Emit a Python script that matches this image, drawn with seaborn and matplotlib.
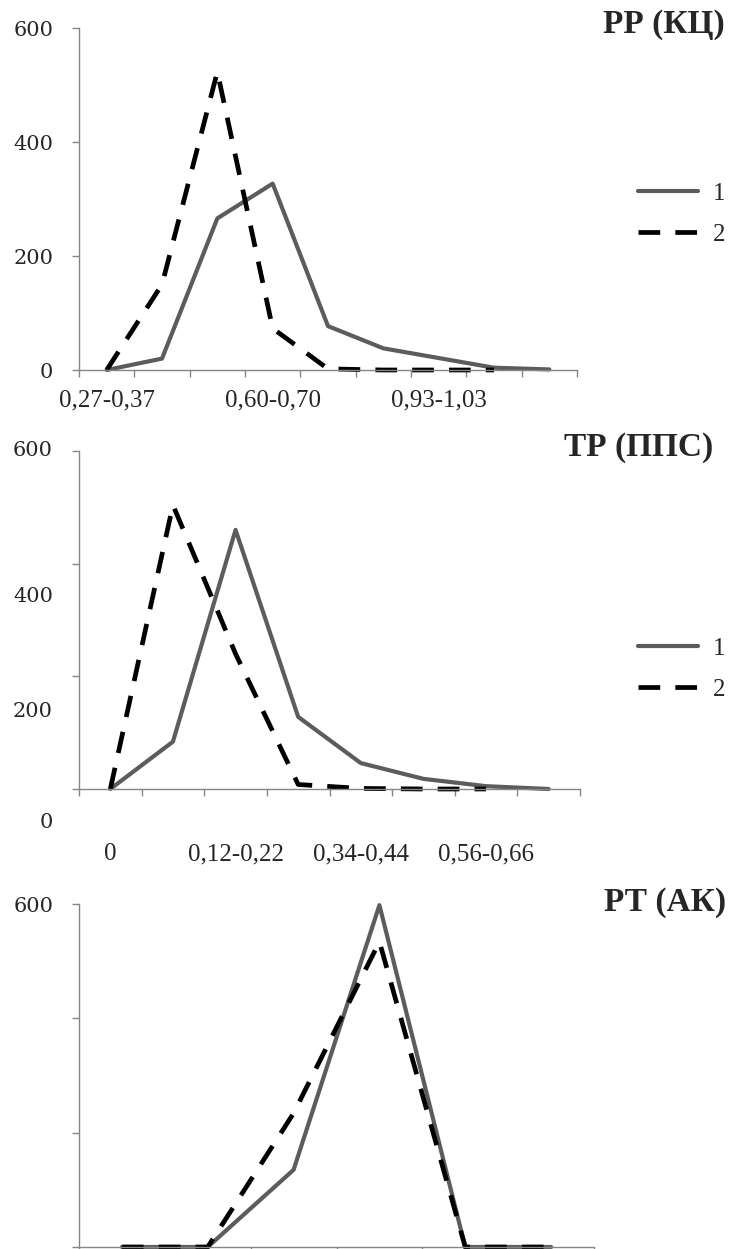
import numpy as np
import matplotlib
matplotlib.use("Agg")
import matplotlib.pyplot as plt
import seaborn as sns
from matplotlib.transforms import blended_transform_factory

sns.set_style("ticks")
plt.rcParams['font.family'] = ['Liberation Serif', 'DejaVu Serif']

# ---------------- data ----------------
# Panel 1: РР (КЦ)
rr_bins = ["0,27-0,37", "0,38-0,48", "0,49-0,59", "0,60-0,70", "0,71-0,81",
           "0,82-0,92", "0,93-1,03", "1,04-1,14", "1,15-1,25"]
rr_s1 = [0, 20, 266, 327, 77, 38, 21, 4, 1]
rr_s2 = [0, 150, 523, 73, 2, 0, 0, 0]

# Panel 2: ТР (ППС)
tr_bins = ["0", "0,01-0,11", "0,12-0,22", "0,23-0,33", "0,34-0,44",
           "0,45-0,55", "0,56-0,66", "0,67-0,77"]
tr_s1 = [0, 84, 460, 128, 46, 18, 5, 0]
tr_s2 = [0, 504, 240, 8, 1, 0, 0]
# tick labels of panel 2 as they sit in the source (shifted from their ticks)
tr_ylabels = ["600", "400", "200", "0"]
tr_ylabel_pos = [600, 341, 137, -60]

# Panel 3: РТ (АК) (category labels are cut off in the source)
rt_bins = ["", "", "", "", "", ""]
rt_s1 = [0, 0, 135, 598, 0, 0]
rt_s2 = [0, 0, 234, 534, 0, 0]

series_labels = ["1", "2"]
y_ticks = [0, 200, 400, 600]

# ---------------- style ----------------
W, H, DPI = 731, 1249, 100
AXIS_C = "#868686"
C1 = "#5c5c5c"
C2 = "#000000"
LW1 = 3
LW2 = 3.4
DASH = (0, (4.6, 3.2))
YLAB_FONT = dict(family=["DejaVu Serif"], size=15)

fig = plt.figure(figsize=(W / DPI, H / DPI), dpi=DPI)


def add_axes_px(x0, y0, x1, y1):
    return fig.add_axes([x0 / W, 1 - y1 / H, (x1 - x0) / W, (y1 - y0) / H])


def base_axes(ax, n, label_idx, bins, xpad):
    for s in ["top", "right"]:
        ax.spines[s].set_visible(False)
    for s in ["left", "bottom"]:
        ax.spines[s].set_color(AXIS_C)
        ax.spines[s].set_linewidth(1)
    ax.set_xlim(-0.5, n - 0.5)
    ax.set_ylim(0, 600)
    ax.set_xticks(np.arange(n + 1) - 0.5)
    ax.set_xticklabels([""] * (n + 1))
    ax.set_xticks(label_idx, minor=True)
    ax.set_xticklabels([bins[i] for i in label_idx], minor=True, fontsize=18)
    ax.tick_params(axis="x", which="minor", length=0, pad=xpad)
    ax.tick_params(axis="both", which="major", color=AXIS_C, length=5, width=1,
                   direction="out")
    ax.set_yticks(y_ticks)
    ax.set_xlabel("")
    ax.set_ylabel("")


def draw(ax, s1, s2):
    x1 = np.arange(len(s1))
    x2 = np.arange(len(s2))
    sns.lineplot(x=x1, y=s1, ax=ax, color=C1, linewidth=LW1, label=series_labels[0],
                 clip_on=False, legend=False)
    sns.lineplot(x=x2, y=s2, ax=ax, color=C2, linewidth=LW2, linestyle=DASH,
                 label=series_labels[1], clip_on=False, legend=False)
    return ax.lines[-2], ax.lines[-1]


# ---- Panel 1
ax1 = add_axes_px(79, 28, 577, 370)
base_axes(ax1, len(rr_bins), [0, 3, 6], rr_bins, xpad=14)
h1 = draw(ax1, rr_s1, rr_s2)
ax1.set_yticklabels([str(v) for v in y_ticks], **YLAB_FONT)
ax1.tick_params(axis="y", pad=13.5)

# ---- Panel 2
ax2 = add_axes_px(79, 451, 580, 789)
base_axes(ax2, len(tr_bins), [0, 2, 4, 6], tr_bins, xpad=39)
h2 = draw(ax2, tr_s1, tr_s2)
ax2.set_yticklabels([""] * len(y_ticks))
tr_tf = blended_transform_factory(ax2.transAxes, ax2.transData)
for lab, pos in zip(tr_ylabels, tr_ylabel_pos):
    ax2.text((53 - 79) / (580 - 79), pos, lab, transform=tr_tf, ha="right",
             va="center", clip_on=False, **YLAB_FONT)

# ---- Panel 3
ax3 = add_axes_px(79, 904, 594, 1247)
base_axes(ax3, len(rt_bins), [], rt_bins, xpad=14)
draw(ax3, rt_s1, rt_s2)
ax3.set_yticklabels(["", "", "", "600"], **YLAB_FONT)
ax3.tick_params(axis="y", pad=13.5)

# ---- titles
TITLE = dict(ha="right", va="center", fontsize=24, fontweight="bold")
fig.text(725 / W, 1 - 25 / H, "РР (КЦ)", **TITLE)
fig.text(713 / W, 1 - 448 / H, "ТР (ППС)", **TITLE)
fig.text(726 / W, 1 - 902 / H, "РТ (АК)", **TITLE)

# ---- legends
for handles, yc in [(h1, 214), (h2, 669)]:
    fig.legend(list(handles), series_labels, loc="center left",
               bbox_to_anchor=(638 / W, 1 - yc / H), bbox_transform=fig.transFigure,
               frameon=False, borderpad=0, borderaxespad=0, handlelength=2.4,
               handletextpad=0.6, labelspacing=0.75, fontsize=18)

fig.savefig("out.png", dpi=DPI)
